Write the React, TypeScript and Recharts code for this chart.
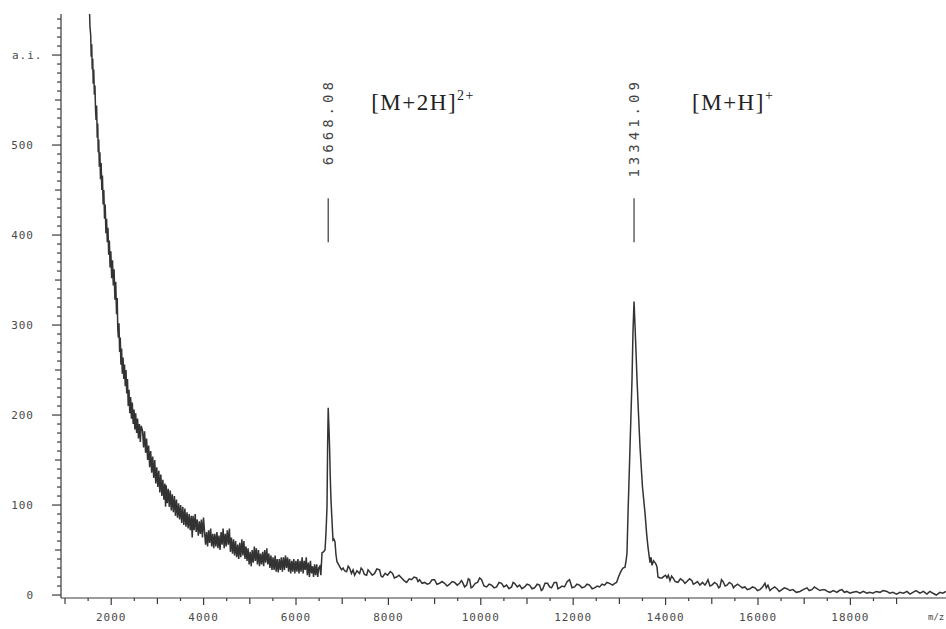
import React from 'react';
import { LineChart, Line, XAxis, YAxis, ReferenceLine } from 'recharts';

// m/z positions of the trace
const spectrumMz = [
  1524, 1540, 1556, 1567, 1578, 1589, 1600, 1610, 1622, 1635, 1648, 1660, 1672, 1684, 1697, 1708,
  1719, 1730, 1742, 1755, 1768, 1782, 1796, 1810, 1825, 1840, 1855, 1870, 1885, 1900, 1915, 1930,
  1945, 1960, 1975, 1992, 2010, 2028, 2045, 2062, 2080, 2098, 2115, 2130, 2142, 2155, 2168, 2182,
  2196, 2210, 2225, 2240, 2256, 2272, 2288, 2304, 2320, 2336, 2352, 2368, 2385, 2402, 2420, 2438,
  2456, 2475, 2494, 2512, 2530, 2550, 2570, 2590, 2610, 2630, 2650, 2680, 2700, 2722, 2744, 2766,
  2788, 2810, 2832, 2854, 2876, 2898, 2920, 2942, 2964, 2986, 3008, 3030, 3052, 3074, 3096, 3118,
  3140, 3162, 3176, 3190, 3212, 3234, 3256, 3278, 3300, 3322, 3345, 3368, 3390, 3412, 3435, 3458,
  3480, 3503, 3526, 3549, 3572, 3595, 3618, 3641, 3664, 3687, 3710, 3733, 3753, 3772, 3795, 3818,
  3840, 3862, 3885, 3908, 3930, 3952, 3975, 3998, 4020, 4042, 4064, 4086, 4108, 4130, 4152, 4175,
  4198, 4220, 4242, 4265, 4288, 4310, 4332, 4355, 4378, 4400, 4422, 4445, 4468, 4490, 4512, 4535,
  4558, 4580, 4602, 4625, 4648, 4670, 4692, 4715, 4738, 4760, 4782, 4805, 4828, 4850, 4872, 4895,
  4918, 4940, 4962, 4985, 5008, 5030, 5052, 5075, 5098, 5120, 5142, 5165, 5188, 5210, 5232, 5255,
  5278, 5300, 5322, 5345, 5368, 5390, 5412, 5435, 5458, 5480, 5502, 5525, 5548, 5570, 5592, 5615,
  5638, 5660, 5682, 5705, 5728, 5750, 5772, 5795, 5818, 5840, 5862, 5885, 5908, 5930, 5952, 5975,
  5998, 6020, 6042, 6065, 6088, 6110, 6132, 6155, 6178, 6200, 6222, 6245, 6268, 6290, 6312, 6335,
  6358, 6380, 6402, 6425, 6448, 6470, 6492, 6515, 6538, 6563, 6595, 6628, 6650, 6671, 6684, 6697,
  6706, 6715, 6727, 6742, 6757, 6779, 6800, 6822, 6844, 6865, 6887, 6920, 6952, 6985, 7020, 7050,
  7095, 7130, 7160, 7200, 7235, 7268, 7320, 7377, 7410, 7442, 7480, 7528, 7560, 7593, 7650, 7701,
  7750, 7810, 7840, 7875, 7930, 7983, 8040, 8091, 8130, 8178, 8230, 8286, 8340, 8394, 8450, 8502,
  8555, 8610, 8640, 8675, 8730, 8784, 8840, 8892, 8945, 9000, 9050, 9108, 9160, 9216, 9270, 9325,
  9380, 9433, 9490, 9541, 9580, 9606, 9650, 9693, 9730, 9758, 9790, 9823, 9880, 9931, 9975, 10017,
  10070, 10125, 10180, 10234, 10290, 10342, 10395, 10450, 10500, 10558, 10610, 10666, 10700, 10731, 10790, 10840,
  10890, 10948, 11000, 11056, 11110, 11164, 11220, 11272, 11310, 11337, 11390, 11445, 11490, 11532, 11590, 11640,
  11670, 11705, 11760, 11813, 11870, 11922, 11975, 12030, 12080, 12138, 12190, 12246, 12300, 12354, 12410, 12463,
  12520, 12571, 12625, 12679, 12730, 12787, 12852, 12900, 12939, 12980, 13013, 13050, 13078, 13122, 13150, 13165,
  13187, 13210, 13230, 13273, 13295, 13317, 13338, 13360, 13382, 13415, 13447, 13500, 13555, 13590, 13620, 13663,
  13685, 13706, 13740, 13771, 13795, 13814, 13836, 13880, 13922, 13970, 14000, 14030, 14060, 14095, 14130, 14160,
  14210, 14268, 14320, 14376, 14420, 14463, 14520, 14571, 14600, 14636, 14690, 14744, 14800, 14853, 14890, 14918,
  14960, 15004, 15060, 15112, 15150, 15177, 15210, 15242, 15290, 15329, 15380, 15437, 15470, 15502, 15560, 15610,
  15660, 15718, 15770, 15827, 15880, 15935, 15990, 16043, 16100, 16151, 16180, 16216, 16260, 16303, 16360, 16411,
  16460, 16519, 16570, 16627, 16690, 16757, 16830, 16908, 16980, 17060, 17110, 17168, 17220, 17276, 17341, 17400,
  17449, 17500, 17558, 17630, 17709, 17760, 17817, 17870, 17925, 17990, 18055, 18130, 18207, 18280, 18358, 18420,
  18488, 18560, 18640, 18710, 18791, 18850, 18921, 19000, 19073, 19150, 19224, 19290, 19354, 19420, 19506, 19580,
  19657, 19720, 19787, 19860, 19938, 20000, 20068,
];

// intensity (a.i.) at each m/z above
const spectrumIntensity = [
  660, 632, 622, 598, 612, 584, 596, 568, 584, 556, 566, 540, 528, 544, 508, 524,
  492, 506, 476, 492, 462, 480, 450, 466, 434, 450, 418, 434, 402, 418, 392, 408,
  378, 394, 364, 382, 352, 372, 344, 362, 328, 348, 312, 330, 296, 286, 302, 270,
  286, 256, 274, 246, 264, 240, 256, 232, 250, 224, 240, 210, 228, 202, 220, 196,
  214, 190, 206, 184, 202, 180, 196, 174, 190, 170, 188, 182, 164, 182, 158, 174,
  150, 166, 142, 160, 136, 154, 130, 150, 124, 142, 120, 138, 114, 134, 110, 128,
  106, 124, 98, 122, 102, 118, 98, 116, 94, 112, 92, 110, 88, 106, 86, 102,
  84, 100, 80, 98, 78, 96, 76, 92, 74, 90, 72, 88, 64, 88, 72, 90,
  70, 84, 66, 82, 68, 84, 64, 86, 70, 56, 70, 54, 72, 58, 74, 54,
  68, 52, 68, 54, 70, 52, 66, 50, 70, 56, 74, 52, 68, 54, 72, 56,
  74, 48, 64, 46, 62, 44, 60, 42, 56, 40, 58, 42, 62, 44, 60, 40,
  54, 38, 52, 34, 48, 32, 50, 36, 54, 38, 52, 34, 50, 32, 46, 34,
  48, 32, 50, 36, 52, 34, 46, 30, 44, 28, 42, 28, 44, 26, 40, 25,
  40, 28, 42, 26, 42, 28, 44, 30, 42, 26, 40, 24, 38, 26, 40, 24,
  38, 26, 40, 24, 38, 26, 42, 24, 38, 28, 42, 22, 36, 20, 38, 24,
  32, 20, 34, 22, 34, 20, 30, 32, 22, 47, 48, 50, 70, 98, 164, 208,
  195, 183, 164, 130, 106, 83, 61, 62, 59, 45, 37, 34, 31, 28, 30, 27,
  26, 32, 30, 24, 28, 22, 27, 24, 30, 28, 23, 22, 28, 26, 22, 24,
  29, 28, 21, 20, 24, 22, 26, 24, 19, 20, 22, 19, 16, 14, 18, 17,
  20, 19, 15, 17, 13, 14, 12, 13, 17, 17, 12, 13, 15, 13, 10, 12,
  15, 14, 11, 13, 16, 14, 9, 11, 18, 17, 8, 9, 13, 14, 19, 17,
  10, 9, 12, 11, 8, 9, 14, 13, 9, 11, 7, 9, 14, 13, 9, 11,
  7, 9, 12, 11, 7, 8, 12, 11, 5, 6, 13, 13, 9, 8, 14, 14,
  7, 8, 10, 9, 15, 17, 8, 9, 12, 11, 8, 9, 12, 11, 7, 8,
  10, 9, 12, 11, 14, 13, 11, 13, 14, 20, 24, 28, 30, 31, 40, 47,
  91, 130, 164, 239, 294, 326, 300, 270, 239, 200, 164, 120, 91, 68, 53, 36,
  42, 33, 38, 36, 34, 31, 20, 19, 19, 21, 22, 19, 22, 16, 21, 19,
  15, 14, 18, 16, 13, 15, 18, 16, 12, 13, 15, 11, 14, 11, 14, 17,
  10, 11, 14, 12, 8, 9, 17, 15, 10, 11, 14, 12, 8, 10, 12, 10,
  8, 9, 6, 7, 9, 8, 5, 6, 9, 13, 8, 11, 5, 7, 9, 7,
  4, 6, 8, 7, 5, 6, 3, 4, 6, 8, 5, 6, 9, 7, 5, 6,
  6, 4, 3, 5, 3, 5, 6, 3, 4, 2, 3, 4, 2, 4, 2, 3,
  2, 4, 3, 5, 4, 2, 3, 1, 3, 2, 4, 1, 3, 5, 2, 4,
  1, 4, 2, 0, 3, 2, 4,
];

// annotated peaks
const peakApexMz = [6697, 13317];
const peakMassLabels = ['6668.08', '13341.09'];
const ionLabels = ['[M+2H]', '[M+H]'];
const ionCharges = ['2+', '+'];

// axes
const xLabelTicks = [2000, 4000, 6000, 8000, 10000, 12000, 14000, 16000, 18000];
const yLabelTicks = [0, 100, 200, 300, 400, 500, 600];
const yTickText = ['0', '100', '200', '300', '400', '500', 'a.i.'];

const xTicks = Array.from({ length: 37 }, (_, i) => 1000 + i * 500);
const yTicks = Array.from({ length: 65 }, (_, i) => i * 10);

const data = spectrumMz.map((mz, i) => ({ mz, intensity: spectrumIntensity[i] }));

const INK = '#3a3a3a';
const MONO = '"DejaVu Sans Mono", "Liberation Mono", monospace';

const XTick = ({ x, y, payload }: any) => {
  const v = payload.value;
  const len = v % 2000 === 0 ? 7 : v % 1000 === 0 ? 6 : 3;
  const labelIdx = xLabelTicks.indexOf(v);
  return (
    <g>
      <line x1={x} x2={x} y1={y} y2={y + len} stroke={INK} strokeWidth={1.2} />
      {labelIdx >= 0 && (
        <text x={x} y={y + 23} textAnchor="middle" fontFamily={MONO} fontSize={11} letterSpacing={1} fill="#4a4a4a">
          {xLabelTicks[labelIdx]}
        </text>
      )}
    </g>
  );
};

const YTick = ({ x, y, payload }: any) => {
  const v = payload.value;
  const len = v % 100 === 0 ? 9 : v % 50 === 0 ? 6 : 4;
  const labelIdx = yLabelTicks.indexOf(v);
  const txt = labelIdx >= 0 ? yTickText[labelIdx] : null;
  return (
    <g>
      <line x1={x - len} x2={x} y1={y} y2={y} stroke={INK} strokeWidth={1.2} />
      {txt && (
        <text
          x={txt === 'a.i.' ? x - 49 : x - 27}
          y={y}
          textAnchor={txt === 'a.i.' ? 'start' : 'end'}
          dominantBaseline="central"
          fontFamily={MONO}
          fontSize={11}
          letterSpacing={1}
          fill="#4a4a4a"
        >
          {txt}
        </text>
      )}
    </g>
  );
};

const MzLabel = ({ viewBox }: any) => (
  <text x={viewBox.x + viewBox.width - 18} y={viewBox.y + 22} fontFamily={MONO} fontSize={9} fill="#4a4a4a">
    m/z
  </text>
);

const PeakLabel = ({ viewBox, index }: any) => {
  const x = viewBox.x;
  const top = viewBox.y;
  const dx = index === 0 ? 43 : 58;
  return (
    <g>
      <text
        transform={`translate(${x}, ${top - 120}) rotate(-90)`}
        textAnchor="end"
        dominantBaseline="central"
        fontFamily={MONO}
        fontSize={14}
        letterSpacing={4}
        fill="#444"
      >
        {peakMassLabels[index]}
      </text>
      <text x={x + dx} y={top - 88} fontFamily='"Liberation Serif", serif' fontSize={23} letterSpacing={1.5} fill="#222">
        {ionLabels[index]}
        <tspan fontSize={14} dy={-10}>{ionCharges[index]}</tspan>
      </text>
    </g>
  );
};

export default function App() {
  return (
    <div style={{ position: 'absolute', left: 0, top: 0, width: 946, height: 629, background: '#fff' }}>
      <LineChart width={946} height={629} data={data} margin={{ top: 14, right: 0, bottom: 0, left: 0 }}>
        <XAxis
          type="number"
          dataKey="mz"
          domain={[913, 20070]}
          allowDataOverflow
          ticks={xTicks}
          interval={0}
          tickSize={0}
          tickMargin={0}
          tickLine={false}
          tick={XTick}
          height={31}
          axisLine={{ stroke: INK, strokeWidth: 1.2 }}
          label={{ content: MzLabel }}
        />
        <YAxis
          type="number"
          domain={[-3.3, 645.6]}
          allowDataOverflow
          ticks={yTicks}
          interval={0}
          tickSize={0}
          tickMargin={0}
          tickLine={false}
          tick={YTick}
          width={61}
          axisLine={{ stroke: INK, strokeWidth: 1.2 }}
        />
        <Line
          type="linear"
          dataKey="intensity"
          dot={false}
          stroke="#333"
          strokeWidth={1.5}
          isAnimationActive={false}
        />
        {peakApexMz.map((mz, i) => (
          <ReferenceLine
            key={mz}
            segment={[{ x: mz, y: 392 }, { x: mz, y: 441 }]}
            stroke={INK}
            strokeWidth={1.2}
            label={(p: any) => <PeakLabel viewBox={p.viewBox} index={i} />}
          />
        ))}
      </LineChart>
    </div>
  );
}
